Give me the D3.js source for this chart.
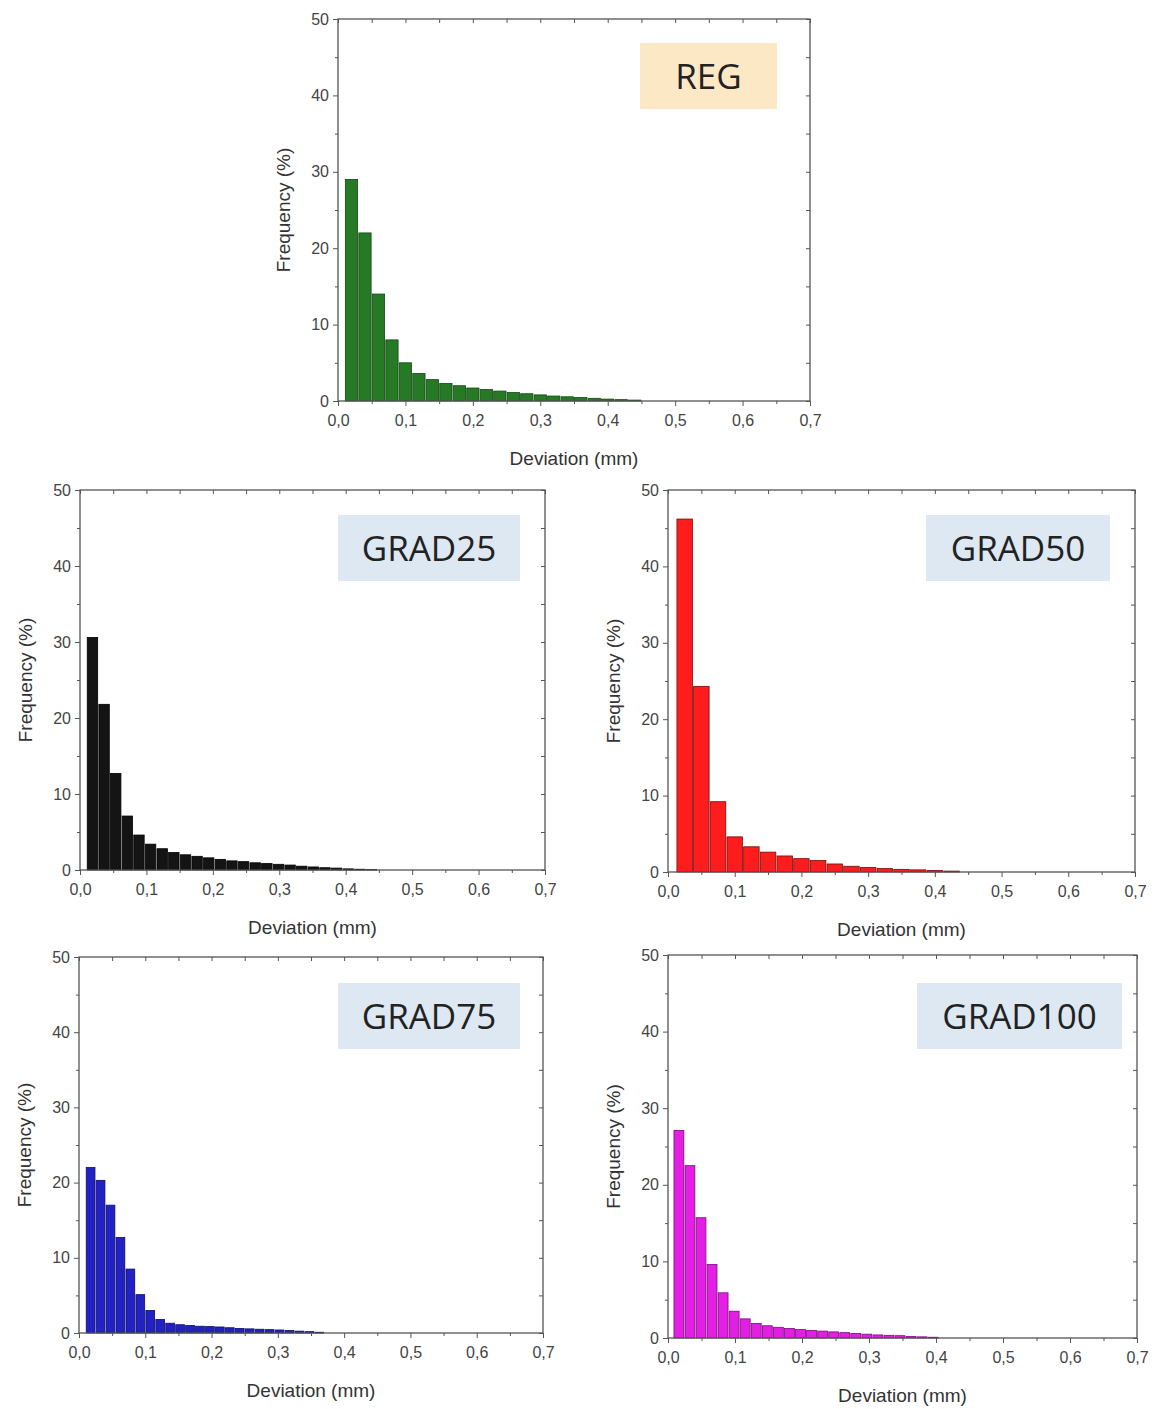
<!DOCTYPE html>
<html>
<head>
<meta charset="utf-8">
<script src="https://cdn.jsdelivr.net/npm/d3@7/dist/d3.min.js"></script>
<style>
  body { margin: 0; background: #fff; }
  text { font-family: "Liberation Sans", Arial, sans-serif; }
</style>
</head>
<body>
<svg id="fig" width="1156" height="1409"></svg>
<script>
// tick labels
var xTicks = [0, 0.1, 0.2, 0.3, 0.4, 0.5, 0.6, 0.7];
var xMinor = [0.05, 0.15, 0.25, 0.35, 0.45, 0.55, 0.65];
var yTicks = [0, 10, 20, 30, 40, 50];
var yMinor = [5, 15, 25, 35, 45];

var names = ["REG", "GRAD25", "GRAD50", "GRAD75", "GRAD100"];

// bin start / width (mm) of each histogram
var binStart = [0.01, 0.01, 0.0125, 0.01, 0.008];
var binWidth = [0.02, 0.0175, 0.025, 0.015, 0.0165];

// frequency (%) per bin
var regFreq = [29.0, 22.0, 14.0, 8.0, 5.0, 3.6, 2.8, 2.3, 2.0, 1.7, 1.5, 1.3, 1.1, 0.95, 0.8, 0.65, 0.55, 0.45, 0.35, 0.25, 0.18, 0.12];
var grad25Freq = [30.6, 21.8, 12.7, 7.1, 4.6, 3.4, 2.8, 2.3, 2.0, 1.8, 1.6, 1.4, 1.2, 1.1, 0.95, 0.85, 0.75, 0.65, 0.5, 0.4, 0.3, 0.25, 0.15, 0.1, 0.05];
var grad50Freq = [46.2, 24.3, 9.2, 4.6, 3.3, 2.6, 2.1, 1.75, 1.5, 1.05, 0.75, 0.6, 0.45, 0.35, 0.28, 0.2, 0.12];
var grad75Freq = [22.0, 20.3, 17.0, 12.7, 8.5, 5.1, 3.0, 1.8, 1.3, 1.1, 1.0, 0.9, 0.85, 0.8, 0.7, 0.6, 0.55, 0.5, 0.45, 0.4, 0.32, 0.25, 0.18, 0.1];
var grad100Freq = [27.1, 22.5, 15.7, 9.6, 5.9, 3.5, 2.5, 1.9, 1.6, 1.4, 1.25, 1.1, 1.0, 0.9, 0.8, 0.7, 0.6, 0.5, 0.4, 0.35, 0.3, 0.2, 0.15, 0.1];

var freqs = [regFreq, grad25Freq, grad50Freq, grad75Freq, grad100Freq];

// styling and placement
var fills   = ["#267a26", "#141414", "#ff1c1c", "#2222c4", "#e21fe2"];
var strokes = ["#124812", "#000000", "#7a0a0a", "#0c0c6a", "#7a0c7a"];
var boxFill = ["#fde8c6", "#dde8f2", "#dde8f2", "#dde8f2", "#dde8f2"];
var frames = [
  {l: 338, t: 19,  w: 472, h: 382, bw: 137, br: 33, bt: 24},
  {l: 80,  t: 490, w: 465, h: 380, bw: 182, br: 25, bt: 25},
  {l: 668, t: 490, w: 467, h: 382, bw: 184, br: 25, bt: 25},
  {l: 79,  t: 957, w: 464, h: 376, bw: 182, br: 23, bt: 26},
  {l: 668, t: 955, w: 469, h: 383, bw: 205, br: 15, bt: 28}
];

var svg = d3.select("#fig");
var fmt = function(d) { return d3.format(".1f")(d).replace(".", ","); };

names.forEach(function(name, k) {
  var f = frames[k];
  var x = d3.scaleLinear().domain([0, 0.7]).range([0, f.w]);
  var y = d3.scaleLinear().domain([0, 50]).range([f.h, 0]);
  var g = svg.append("g").attr("transform", "translate(" + f.l + "," + f.t + ")");

  // label box
  var bx = f.w - f.bw - f.br, by = f.bt;
  g.append("rect").attr("x", bx).attr("y", by).attr("width", f.bw).attr("height", 66)
    .attr("fill", boxFill[k]);
  g.append("text").attr("x", bx + f.bw / 2).attr("y", by + 46)
    .attr("text-anchor", "middle").style("font-family", "'Open Sans', sans-serif")
    .style("font-size", "35px").attr("fill", "#222").text(name);

  // bars
  var bins = freqs[k].map(function(v, i) {
    return {x0: binStart[k] + i * binWidth[k], x1: binStart[k] + (i + 1) * binWidth[k], v: v};
  });
  g.selectAll("rect.bar").data(bins).enter().append("rect")
    .attr("class", "bar")
    .attr("x", function(d) { return x(d.x0) + 0.6; })
    .attr("width", function(d) { return Math.max(0.5, x(d.x1) - x(d.x0) - 1.2); })
    .attr("y", function(d) { return y(d.v); })
    .attr("height", function(d) { return f.h - y(d.v); })
    .attr("fill", fills[k]).attr("stroke", strokes[k]).attr("stroke-width", 0.8);

  // axes
  var ax = function(sel) {
    sel.select(".domain").remove();
    sel.selectAll("line").attr("stroke", "#555");
    sel.selectAll("text").attr("fill", "#444").style("font-size", "16px");
  };
  g.append("g").attr("transform", "translate(0," + f.h + ")")
    .call(d3.axisBottom(x).tickValues(xTicks).tickFormat(fmt).tickSize(5).tickPadding(9)).call(ax);
  g.append("g").attr("transform", "translate(0," + f.h + ")")
    .call(d3.axisBottom(x).tickValues(xMinor).tickFormat("").tickSize(3)).call(ax);
  g.append("g")
    .call(d3.axisLeft(y).tickValues(yTicks).tickSize(5).tickPadding(4)).call(ax);
  g.append("g")
    .call(d3.axisLeft(y).tickValues(yMinor).tickFormat("").tickSize(3)).call(ax);
  g.append("g")
    .call(d3.axisTop(x).tickValues(xTicks.concat(xMinor)).tickFormat("").tickSize(-4)).call(ax);
  g.append("g").attr("transform", "translate(" + f.w + ",0)")
    .call(d3.axisRight(y).tickValues(yTicks.concat(yMinor)).tickFormat("").tickSize(-4)).call(ax);

  g.append("rect").attr("width", f.w).attr("height", f.h)
    .attr("fill", "none").attr("stroke", "#555").attr("stroke-width", 1.3);

  // titles
  g.append("text").attr("x", f.w / 2).attr("y", f.h + 64)
    .attr("text-anchor", "middle").attr("fill", "#333").style("font-size", "19px")
    .text("Deviation (mm)");
  g.append("text").attr("transform", "translate(-48," + (f.h / 2) + ") rotate(-90)")
    .attr("text-anchor", "middle").attr("fill", "#333").style("font-size", "19px")
    .text("Frequency (%)");
});
</script>
</body>
</html>
